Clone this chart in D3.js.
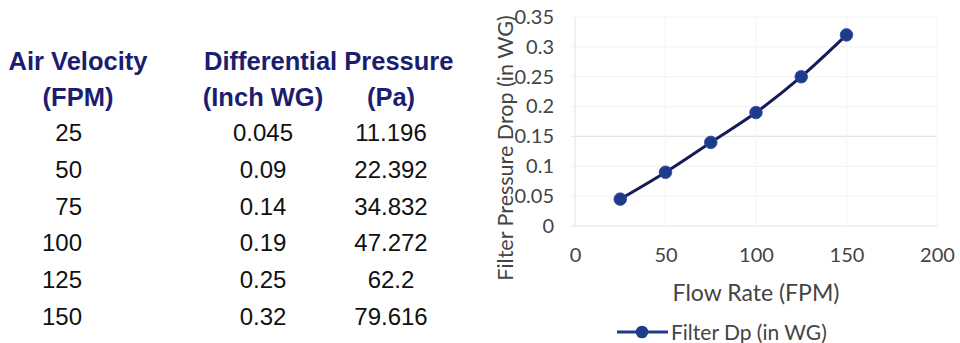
<!DOCTYPE html>
<html><head><meta charset="utf-8">
<script src="https://cdn.jsdelivr.net/npm/d3@7"></script>
<style>html,body{margin:0;padding:0;background:#fff;}</style>
</head><body>
<svg id="c" width="960" height="343"></svg>
<script>
// Data
const velocity = [25, 50, 75, 100, 125, 150];
const inchWG = [0.045, 0.09, 0.14, 0.19, 0.25, 0.32];
const inchWGLabels = ["0.045", "0.09", "0.14", "0.19", "0.25", "0.32"];
const pascal = ["11.196", "22.392", "34.832", "47.272", "62.2", "79.616"];
const xTicks = [0, 50, 100, 150, 200];
const yTicks = [0, 0.05, 0.1, 0.15, 0.2, 0.25, 0.3, 0.35];
const seriesName = "Filter Dp (in WG)";

const svg = d3.select("#c");
const navy = "#1b1e70";

// ---- Table ----
const tbl = svg.append("g").attr("font-family", "'Liberation Sans', Arial, sans-serif");
const hdr = tbl.append("g").attr("fill", navy).attr("font-weight", "bold").attr("font-size", 25.5);
hdr.append("text").attr("x", 78).attr("y", 70).attr("text-anchor", "middle").text("Air Velocity");
hdr.append("text").attr("x", 78).attr("y", 106).attr("text-anchor", "middle").text("(FPM)");
hdr.append("text").attr("x", 204).attr("y", 70).text("Differential Pressure");
hdr.append("text").attr("x", 263).attr("y", 106).attr("text-anchor", "middle").text("(Inch WG)");
hdr.append("text").attr("x", 391).attr("y", 106).attr("text-anchor", "middle").text("(Pa)");

const rowY = d3.scalePoint().domain(d3.range(velocity.length)).range([141, 325]);
const rows = tbl.append("g").attr("fill", "#111").attr("font-size", 24);
rows.selectAll("text.v").data(velocity).join("text").attr("class", "v")
  .attr("x", 82).attr("y", (d, i) => rowY(i)).attr("text-anchor", "end").text(d => d);
rows.selectAll("text.w").data(inchWGLabels).join("text").attr("class", "w")
  .attr("x", 263).attr("y", (d, i) => rowY(i)).attr("text-anchor", "middle").text(d => d);
rows.selectAll("text.p").data(pascal).join("text").attr("class", "p")
  .attr("x", 391).attr("y", (d, i) => rowY(i)).attr("text-anchor", "middle").text(d => d);

// ---- Chart ----
const x = d3.scaleLinear().domain([0, 200]).range([575, 937]);
const y = d3.scaleLinear().domain([0, 0.35]).range([226, 17]);
const font = "Lato, 'Open Sans', sans-serif";
const ch = svg.append("g").attr("font-family", font);

// gridlines
ch.append("g").selectAll("line").data(yTicks).join("line")
  .attr("x1", x(0) - 4).attr("x2", x(200)).attr("y1", d => y(d)).attr("y2", d => y(d))
  .attr("stroke", d => (d === 0 || d === 0.15) ? "#e4e4e4" : "#f3f3f3").attr("stroke-width", 1.2);
ch.append("g").selectAll("line").data(xTicks).join("line")
  .attr("x1", d => x(d)).attr("x2", d => x(d)).attr("y1", y(0.35)).attr("y2", y(0))
  .attr("stroke", d => d === 0 ? "#e8e8e8" : "#f5f5f5").attr("stroke-width", 1.2);

// axes (labels only)
const xAxis = ch.append("g").attr("transform", `translate(0,${y(0)})`)
  .call(d3.axisBottom(x).tickValues(xTicks).tickSize(0).tickPadding(22).tickFormat(d3.format("d")));
const yAxis = ch.append("g").attr("transform", `translate(${x(0) - 21},0)`)
  .call(d3.axisLeft(y).tickValues(yTicks).tickSize(0).tickPadding(0).tickFormat(d => d3.format("")(+d.toFixed(2))));
[xAxis, yAxis].forEach(a => {
  a.select(".domain").remove();
  a.selectAll("text").attr("font-family", font).attr("font-size", 20).attr("fill", "#444");
});

// axis titles
ch.append("text").attr("x", 756).attr("y", 301).attr("text-anchor", "middle")
  .attr("font-size", 23).attr("fill", "#444").text("Flow Rate (FPM)");
ch.append("text").attr("transform", "translate(513,148) rotate(-90)").attr("text-anchor", "middle")
  .attr("font-size", 21.5).attr("fill", "#444").text("Filter Pressure Drop (in WG)");

// line + markers
const pts = velocity.map((v, i) => [v, inchWG[i]]);
ch.append("path").datum(pts)
  .attr("d", d3.line().x(d => x(d[0])).y(d => y(d[1])).curve(d3.curveMonotoneX))
  .attr("fill", "none").attr("stroke", "#161b58").attr("stroke-width", 3);
ch.append("g").selectAll("circle").data(pts).join("circle")
  .attr("cx", d => x(d[0])).attr("cy", d => y(d[1])).attr("r", 6.3)
  .attr("fill", "#1f3c8c").attr("stroke", "#2a4aa0").attr("stroke-width", 0.8);

// legend
const lg = ch.append("g");
lg.append("line").attr("x1", 617).attr("x2", 668).attr("y1", 332).attr("y2", 332)
  .attr("stroke", "#1f3c8c").attr("stroke-width", 3);
lg.append("circle").attr("cx", 642).attr("cy", 332).attr("r", 6.3).attr("fill", "#1f3c8c");
lg.append("text").attr("x", 671).attr("y", 340).attr("font-size", 21).attr("fill", "#444").text(seriesName);
</script>
</body></html>
